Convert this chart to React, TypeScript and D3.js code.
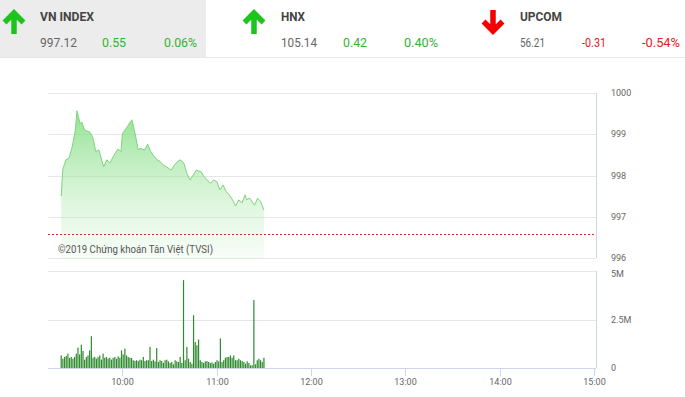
import React, { useEffect, useRef } from "react";
import * as d3 from "d3";

// header quotes
const indexNames = ["VN INDEX", "HNX", "UPCOM"];
const indexValues = ["997.12", "105.14", "56.21"];
const indexChanges = ["0.55", "0.42", "-0.31"];
const indexPercents = ["0.06%", "0.40%", "-0.54%"];

// intraday price (time, value)
const priceTimes = [
    "9:21", "9:22", "9:24", "9:26", "9:28", "9:30", "9:31", "9:33", "9:34", "9:36",
    "9:39", "9:41", "9:43", "9:45", "9:48", "9:50", "9:52", "9:54", "9:57", "9:59",
    "10:00", "10:03", "10:05", "10:06", "10:08", "10:10", "10:11", "10:14", "10:16", "10:18",
    "10:20", "10:22", "10:24", "10:26", "10:28", "10:31", "10:33", "10:35", "10:37", "10:39",
    "10:41", "10:43", "10:45", "10:47", "10:50", "10:52", "10:54", "10:56", "10:58", "11:00",
    "11:02", "11:04", "11:06", "11:08", "11:10", "11:12", "11:14", "11:16", "11:18", "11:19",
    "11:21", "11:24", "11:26", "11:28", "11:30",
];
const priceValues = [
    997.5, 998.15, 998.38, 998.42, 998.7, 999.1, 999.57, 999.26, 999.3, 999.1,
    999.06, 998.94, 998.58, 998.62, 998.21, 998.38, 998.3, 998.45, 998.64, 998.58,
    999.02, 999.18, 999.3, 999.35, 999.02, 998.62, 998.66, 998.62, 998.76, 998.58,
    998.47, 998.38, 998.34, 998.25, 998.21, 998.13, 998.25, 998.34, 998.38, 998.3,
    998.05, 997.89, 998.01, 998.13, 998.09, 997.97, 997.89, 997.81, 997.89, 997.85,
    997.65, 997.77, 997.61, 997.53, 997.41, 997.26, 997.41, 997.33, 997.53, 997.41,
    997.45, 997.28, 997.45, 997.36, 997.16,
];
const refPrice = 996.57;

// volume bars (millions), spread from first to last time
const volumeStart = "9:21";
const volumeEnd = "11:30";
const volumes = [
    0.65, 0.48, 0.57, 0.62, 0.74, 0.52, 0.57, 0.48, 0.57, 0.74,
    1.05, 0.7, 1.2, 0.88, 0.43, 0.57, 0.65, 0.91, 1.64, 0.53,
    0.57, 0.48, 0.57, 0.65, 0.43, 0.74, 0.53, 0.57, 0.48, 0.53,
    0.43, 0.52, 0.57, 0.48, 0.6, 0.53, 0.91, 0.7, 1.0, 0.65,
    0.57, 0.53, 0.52, 0.4, 0.36, 0.4, 0.36, 0.43, 0.4, 0.57,
    0.36, 0.4, 0.4, 1.09, 0.36, 0.43, 0.34, 1.03, 0.31, 0.4,
    0.36, 0.26, 0.4, 0.43, 0.34, 0.26, 0.31, 0.19, 0.4, 0.34,
    0.31, 0.57, 0.26, 4.53, 0.4, 1.09, 0.48, 0.31, 0.22, 2.72,
    1.34, 1.17, 1.47, 0.4, 0.31, 0.26, 0.34, 0.36, 0.31, 0.26,
    0.29, 0.22, 0.31, 0.4, 0.34, 1.52, 0.31, 0.4, 0.53, 0.57,
    0.57, 0.65, 0.53, 0.65, 0.4, 0.4, 0.48, 0.4, 0.36, 0.31,
    0.22, 0.34, 0.26, 0.14, 0.14, 3.5, 0.19, 0.4, 0.48, 0.4,
    0.31, 0.53,
];

const priceTicks = [996, 997, 998, 999, 1000];
const volumeTicks = [0, 2.5, 5];
const timeTicks = ["10:00", "11:00", "12:00", "13:00", "14:00", "15:00"];

const toMin = (s: string) => {
    const [h, m] = s.split(":").map(Number);
    return h * 60 + m;
};

export default function App() {
    const ref = useRef<SVGSVGElement>(null);

    useEffect(() => {
        const svg = d3.select(ref.current);
        svg.selectAll("*").remove();

        const font = "Roboto, 'Liberation Sans', sans-serif";
        const left = 48, right = 596;
        const x = d3.scaleLinear().domain([toMin("9:12") + 0.6, toMin("15:01") + 0.3]).range([left, right]);
        const y = d3.scaleLinear().domain([996, 1000]).range([258, 93]);
        const yv = d3.scaleLinear().domain([0, 5]).range([368, 271]);

        // header
        svg.append("rect").attr("x", 0).attr("y", 0).attr("width", 206).attr("height", 57).attr("fill", "#ececec");
        svg.append("line").attr("x1", 0).attr("x2", 685).attr("y1", 57.5).attr("y2", 57.5).attr("stroke", "#e8e8e8");

        const colX = [0, 240, 479];
        indexNames.forEach((name, i) => {
            const g = svg.append("g").attr("transform", `translate(${colX[i]},0)`).attr("font-family", font);
            const up = !indexChanges[i].startsWith("-");
            const col = up ? "#2fb52f" : "#e3201f";
            const arrow = up
                ? "M14,34 V15 M4.5,22.5 L14,13 L23.5,22.5"
                : "M14,10 V29 M4.5,21.5 L14,31 L23.5,21.5";
            g.append("path").attr("d", arrow).attr("fill", "none").attr("stroke", up ? "#1ec41e" : "#f40000")
                .attr("stroke-width", 5.5).attr("stroke-linejoin", "miter");
            const lx = i === 0 ? 40 : 41;
            g.append("text").attr("x", lx).attr("y", 21).attr("font-size", 13).attr("font-weight", "bold")
                .attr("fill", "#444").attr("textLength", [54, 24, 42][i]).attr("lengthAdjust", "spacingAndGlyphs").text(name);
            g.append("text").attr("x", lx).attr("y", 47).attr("font-size", 13).attr("fill", "#666")
                .attr("textLength", [37, 36, 25][i]).attr("lengthAdjust", "spacingAndGlyphs").text(indexValues[i]);
            g.append("text").attr("x", lx + 62).attr("y", 47).attr("font-size", 13).attr("fill", col)
                .attr("textLength", 24).attr("lengthAdjust", "spacingAndGlyphs").text(indexChanges[i]);
            g.append("text").attr("x", lx + [124, 123, 122][i]).attr("y", 47).attr("font-size", 13).attr("fill", col)
                .attr("textLength", [33, 34, 38][i]).attr("lengthAdjust", "spacingAndGlyphs").text(indexPercents[i]);
        });

        // gradient
        const defs = svg.append("defs");
        const grad = defs.append("linearGradient").attr("id", "pg").attr("x1", 0).attr("x2", 0).attr("y1", 0).attr("y2", 1);
        grad.append("stop").attr("offset", "0%").attr("stop-color", "#7fdc7f").attr("stop-opacity", 0.85);
        grad.append("stop").attr("offset", "100%").attr("stop-color", "#c9f0c9").attr("stop-opacity", 0.15);

        // grids
        const grid = svg.append("g").attr("stroke", "#e6e6e6").attr("shape-rendering", "crispEdges");
        priceTicks.forEach((t) => {
            grid.append("line").attr("x1", left).attr("x2", right).attr("y1", Math.round(y(t)) + 0.5).attr("y2", Math.round(y(t)) + 0.5);
        });
        volumeTicks.forEach((t) => {
            grid.append("line").attr("x1", left).attr("x2", right).attr("y1", Math.round(yv(t)) + 0.5).attr("y2", Math.round(yv(t)) + 0.5);
        });
        svg.append("line").attr("x1", right + 0.5).attr("x2", right + 0.5).attr("y1", y(1000)).attr("y2", y(996)).attr("stroke", "#ccd6eb");
        svg.append("line").attr("x1", right + 0.5).attr("x2", right + 0.5).attr("y1", yv(5)).attr("y2", yv(0)).attr("stroke", "#ccd6eb");
        svg.append("line").attr("x1", left).attr("x2", right).attr("y1", 368.5).attr("y2", 368.5).attr("stroke", "#ccd6eb");

        // price area
        const pts = priceTimes.map((t, i) => [toMin(t), priceValues[i]] as [number, number]);
        svg.append("path").datum(pts)
            .attr("d", d3.area<[number, number]>().x((d) => x(d[0])).y0(y(996)).y1((d) => y(d[1])))
            .attr("fill", "url(#pg)");
        svg.append("path").datum(pts)
            .attr("d", d3.line<[number, number]>().x((d) => x(d[0])).y((d) => y(d[1])))
            .attr("fill", "none").attr("stroke", "#7fd37f").attr("stroke-width", 1);

        // reference line
        svg.append("line").attr("x1", left).attr("x2", right).attr("y1", Math.round(y(refPrice)) + 0.5).attr("y2", Math.round(y(refPrice)) + 0.5)
            .attr("stroke", "#e02020").attr("stroke-dasharray", "2,2");

        svg.append("text").attr("x", 58).attr("y", 253).attr("font-family", font).attr("font-size", 10.5)
            .attr("fill", "#555").attr("textLength", 155).attr("lengthAdjust", "spacingAndGlyphs")
            .text("©2019 Chứng khoán Tân Việt (TVSI)");

        // volumes
        const v0 = toMin(volumeStart), v1 = toMin(volumeEnd);
        const vx = (i: number) => x(v0 + (i * (v1 - v0)) / (volumes.length - 1));
        svg.append("g").selectAll("rect").data(volumes).join("rect")
            .attr("x", (d, i) => vx(i) - 0.6)
            .attr("width", 1.2)
            .attr("y", (d) => yv(d))
            .attr("height", (d) => yv(0) - yv(d))
            .attr("fill", "#2e8b2e");

        // right labels
        const lab = svg.append("g").attr("font-family", font).attr("font-size", 9).attr("fill", "#666");
        priceTicks.forEach((t) => {
            lab.append("text").attr("x", 611).attr("y", y(t) + 3).text(String(t));
        });
        volumeTicks.forEach((t) => {
            lab.append("text").attr("x", 611).attr("y", yv(t) + (t === 5 ? 6 : 3)).text(t === 0 ? "0" : `${t}M`);
        });

        // time axis
        timeTicks.forEach((t) => {
            const px = Math.round(x(toMin(t))) + 0.5;
            svg.append("line").attr("x1", px).attr("x2", px).attr("y1", 368).attr("y2", 376).attr("stroke", "#ccd6eb");
            svg.append("text").attr("x", px).attr("y", 385).attr("text-anchor", "middle")
                .attr("font-family", font).attr("font-size", 9).attr("fill", "#666").text(t);
        });
    }, []);

    return (
        <div style={{ position: "fixed", left: 0, top: 0, background: "#fff" }}>
            <svg ref={ref} width={685} height={397} style={{ display: "block" }}></svg>
        </div>
    );
}
